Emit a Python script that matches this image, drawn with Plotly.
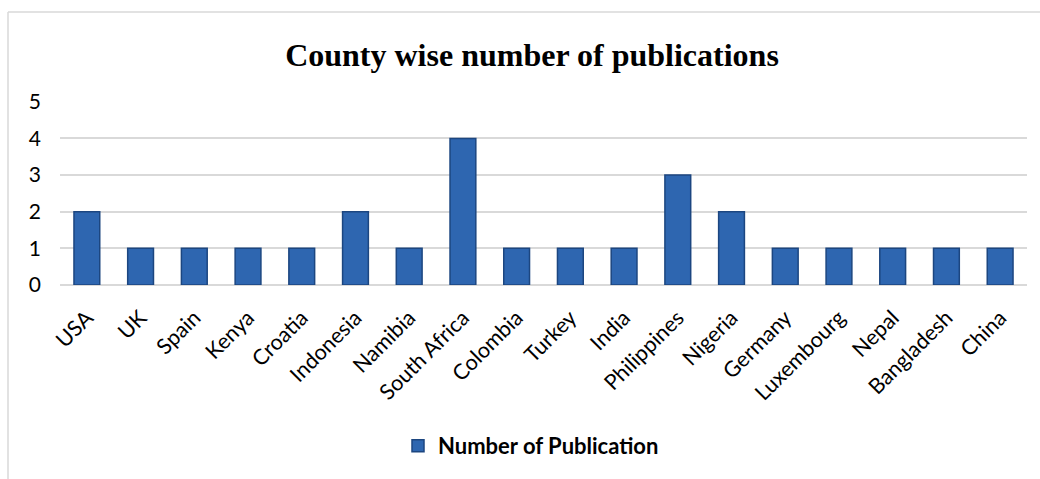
import plotly.graph_objects as go

countries = ["USA", "UK", "Spain", "Kenya", "Croatia", "Indonesia", "Namibia",
             "South Africa", "Colombia", "Turkey", "India", "Philippines",
             "Nigeria", "Germany", "Luxembourg", "Nepal", "Bangladesh", "China"]
publications = [2, 1, 1, 1, 1, 2, 1, 4, 1, 1, 1, 3, 2, 1, 1, 1, 1, 1]
y_ticks = [0, 1, 2, 3, 4, 5]

W, H = 1040, 479
L, R, T, B = 60, 13, 101, 194
pw, ph = W - L - R, H - T - B

def px_x(p):
    return (p - L) / pw

def px_y(p):
    return (H - B - p) / ph

fig = go.Figure()
fig.add_trace(go.Bar(
    x=countries, y=publications, name="<b>Number of Publication</b>",
    marker=dict(color="#2E66B0", line=dict(color="#1C4680", width=1.5)),
))

fig.update_layout(
    width=W, height=H,
    margin=dict(l=L, r=R, t=T, b=B),
    paper_bgcolor="white", plot_bgcolor="white",
    bargap=0.52,
    title=dict(text="<b>County wise number of publications</b>",
               font=dict(family="Liberation Serif", size=32, color="black"),
               x=532 / W, xanchor="center", y=1 - 55 / H, yanchor="middle",
               xref="container", yref="container"),
    showlegend=True,
    legend=dict(orientation="h", x=px_x(531), xanchor="center",
                y=px_y(446), yanchor="middle",
                font=dict(family="Lato", size=22, color="black")),
    font=dict(family="Lato", color="black"),
)
fig.update_xaxes(tickangle=-45, tickfont=dict(family="Lato", size=21.5, color="black"),
                 showline=False, showgrid=False, ticks="", ticklabelstandoff=15)
fig.update_yaxes(range=[0, 5.02], tickvals=y_ticks, showgrid=True,
                 gridcolor="#D9D9D9", gridwidth=1.5, zeroline=True,
                 zerolinecolor="#D9D9D9", zerolinewidth=1.5,
                 tickfont=dict(family="Lato", size=21, color="black"),
                 ticklabelstandoff=18, showline=False, ticks="")

# outer chart frame (top and left edges)
fig.add_shape(type="line", xref="paper", yref="paper",
              x0=px_x(8), x1=px_x(W + 5), y0=px_y(12), y1=px_y(12),
              line=dict(color="#D9D9D9", width=1.5))
fig.add_shape(type="line", xref="paper", yref="paper",
              x0=px_x(8), x1=px_x(8), y0=px_y(12), y1=px_y(H + 5),
              line=dict(color="#D9D9D9", width=1.5))

fig.write_html("out.html")
